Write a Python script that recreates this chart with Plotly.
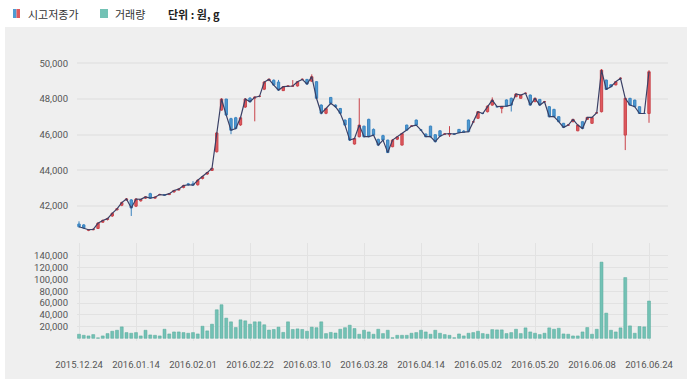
import pandas as pd
import plotly.graph_objects as go

# ---------------- data ----------------
holidays = ["2015-12-25", "2015-12-31", "2016-01-01", "2016-02-08", "2016-02-09",
            "2016-02-10", "2016-03-01", "2016-04-13", "2016-05-05", "2016-05-06",
            "2016-06-06"]
dates = [d.strftime("%Y.%m.%d") for d in
         pd.bdate_range("2015-12-24", "2016-06-24", freq="C", holidays=holidays)]

open_ = [41000, 40950, 40650, 40680, 40750, 41100, 41250, 41450, 41800, 42050,
         42350, 42350, 42000, 42300, 42450, 42700, 42450, 42650, 42650, 42650,
         42800, 42900, 43050, 43250, 43250, 43200, 43550, 43800, 44000, 45050,
         47380, 48000, 46900, 46950, 46550, 47550, 48050, 48050, 48150, 48550,
         49050, 49050, 48950, 48470, 48700, 48720, 48730, 49100, 49100, 49000,
         48970, 47660, 47200, 48090, 47660, 47470, 46820, 46910, 45480, 45890,
         46480, 46860, 46300, 45740, 45950, 45700, 45330, 45750, 45420, 46540,
         46480, 46820, 46260, 46040, 46480, 46000, 46220, 46040, 46000, 46040,
         46300, 46200, 46820, 46720, 46920, 47190, 47290, 47660, 47570, 47480,
         47950, 48040, 48130, 48040, 48320, 48220, 47850, 47980, 47850, 47570,
         47420, 47010, 46640, 46540, 46730, 46220, 46730, 46860, 46640, 47230,
         47290, 49060, 48800, 48790, 49160, 45980, 48040, 47940, 47570, 47190,
         47190]
high = [41150, 41000, 40720, 40750, 41100, 41250, 41350, 41650, 41900, 42250,
        42450, 42400, 42450, 42400, 42550, 42750, 42550, 42700, 42680, 42720,
        42900, 43000, 43200, 43300, 43400, 43500, 43700, 43920, 44150, 46150,
        48050, 48000, 46950, 47000, 47000, 48050, 48100, 48150, 48200, 49000,
        49150, 49100, 49070, 48720, 48760, 49060, 49000, 49150, 49120, 49380,
        49000, 47700, 47500, 48100, 47700, 47500, 46850, 46950, 45820, 48040,
        46500, 46900, 46350, 45780, 46000, 45720, 45750, 45900, 46100, 46560,
        46520, 46850, 46300, 46060, 46500, 46020, 46250, 46080, 46480, 46080,
        46320, 46260, 46850, 46760, 47320, 47230, 47650, 48090, 47620, 47600,
        47980, 48080, 48300, 48240, 48350, 48250, 48060, 48000, 47880, 47600,
        47450, 47030, 46660, 46570, 46880, 46560, 46750, 46990, 46990, 47260,
        49680, 49080, 48820, 48990, 49190, 48060, 48060, 47960, 47590, 47220,
        49620]
low = [40800, 40750, 40600, 40650, 40720, 41080, 41200, 41400, 41750, 42000,
       42300, 41450, 41950, 42250, 42400, 42420, 42420, 42600, 42580, 42620,
       42750, 42880, 43000, 43150, 43150, 43150, 43500, 43750, 43980, 45000,
       47350, 47050, 46030, 46300, 46500, 47500, 47800, 46750, 48100, 48500,
       49000, 48750, 48480, 48450, 48680, 48700, 48700, 49050, 48800, 48950,
       48000, 47150, 47150, 47700, 47500, 47150, 46500, 45650, 45450, 45850,
       45850, 45850, 45950, 45400, 45650, 44990, 45300, 45700, 45400, 46220,
       46450, 46500, 46220, 45880, 45850, 45580, 45900, 46000, 45880, 46000,
       46100, 46110, 46150, 46700, 46900, 47150, 47250, 47620, 47530, 47200,
       47580, 47300, 48100, 48020, 48280, 47640, 47830, 47640, 47820, 46980,
       46980, 46700, 46380, 46500, 46700, 46200, 46330, 46840, 46620, 47200,
       47250, 48520, 48670, 48770, 49130, 45140, 47640, 47550, 47170, 47160,
       46670]
close = [40850, 40780, 40680, 40700, 41050, 41200, 41300, 41600, 41850, 42200,
         42400, 41900, 42400, 42380, 42520, 42450, 42500, 42650, 42620, 42700,
         42880, 42950, 43150, 43200, 43180, 43450, 43650, 43880, 44120, 46100,
         48000, 47100, 46250, 46350, 46950, 48000, 47850, 48100, 48150, 48950,
         49100, 48780, 48500, 48690, 48730, 48730, 48970, 49100, 48840, 49250,
         48040, 47200, 47470, 47760, 47570, 47200, 46540, 45700, 45790, 46540,
         45890, 45890, 45980, 45420, 45700, 45000, 45700, 45880, 46070, 46260,
         46480, 46540, 46260, 45890, 45890, 45610, 45920, 46040, 46070, 46040,
         46110, 46150, 46170, 46720, 47290, 47190, 47600, 47940, 47570, 47570,
         47600, 47660, 48280, 48220, 48320, 47660, 48040, 47660, 47850, 47010,
         47010, 46730, 46410, 46540, 46860, 46540, 46350, 46970, 46970, 47230,
         49620, 48540, 48690, 48970, 49160, 48040, 47660, 47570, 47190, 47190,
         49530]
volume = [6900, 5100, 4000, 6300, 800, 4000, 8000, 12000, 13700, 19400,
          9700, 8600, 9700, 4000, 13700, 5700, 5100, 4000, 15400, 7400,
          10800, 10800, 9700, 8600, 9700, 7400, 20500, 12600, 24000, 48500,
          57100, 34300, 28000, 18300, 31400, 29700, 24000, 28000, 28000, 23000,
          14000, 15000, 19000, 10000, 28000, 15000, 16000, 15000, 12000, 19000,
          18000, 28000, 8000, 10000, 9000, 15400, 18000, 22300, 16600, 6900,
          13700, 10800, 6900, 15400, 8000, 13700, 1000, 5100, 5100, 5100,
          8600, 9700, 13700, 10800, 6900, 13700, 8600, 6300, 5100, 1000,
          7400, 4000, 8600, 9700, 12000, 8000, 6900, 14800, 14300, 14300,
          8000, 9700, 15400, 8000, 17700, 10800, 8600, 6300, 8600, 17700,
          15400, 17100, 7400, 6900, 4000, 4000, 10800, 18300, 6900, 15400,
          129600, 42800, 13700, 10800, 17700, 103300, 21100, 8600, 20000, 19400,
          63400]

tick_dates = dates[::12]
price_ticks = [42000, 44000, 46000, 48000, 50000]
volume_ticks = [20000, 40000, 60000, 80000, 100000, 120000, 140000]

legend_labels = ["시고저종가", "거래량"]
unit_label = "단위 : 원, g"

# ---------------- figure ----------------
W, H = 693, 381
ML, MR, MT, MB = 77, 25, 45, 40
PW, PH = W - ML - MR, H - MT - MB


def px(X):
    return (X - ML) / PW


def py(Y):
    return (H - MB - Y) / PH


RED, RED_L = "#e05a5e", "#c9434a"
BLUE, BLUE_L = "#4f9bd3", "#3a83bf"
TEAL, TEAL_L = "#73c2b5", "#55a99b"
TICKFONT = dict(family="Roboto, Noto Sans, sans-serif", size=9.5, color="#555555")

fig = go.Figure()
fig.add_trace(go.Candlestick(
    x=dates, open=open_, high=high, low=low, close=close,
    increasing=dict(fillcolor=RED, line=dict(color=RED_L, width=1)),
    decreasing=dict(fillcolor=BLUE, line=dict(color=BLUE_L, width=1)),
    whiskerwidth=0, xaxis="x", yaxis="y", showlegend=False,
    name=legend_labels[0]))
fig.add_trace(go.Scatter(
    x=dates, y=close, mode="lines", line=dict(color="#3a4066", width=1.2),
    xaxis="x", yaxis="y", showlegend=False, hoverinfo="skip"))
fig.add_trace(go.Bar(
    x=dates, y=volume, marker=dict(color=TEAL, line=dict(color=TEAL_L, width=0.5)),
    width=0.62, xaxis="x2", yaxis="y2", showlegend=False, name=legend_labels[1]))

xr = [-0.42, 124.0]
fig.update_layout(
    width=W, height=H, autosize=False,
    margin=dict(l=ML, r=MR, t=MT, b=MB, pad=0),
    paper_bgcolor="white", plot_bgcolor="white",
    showlegend=False, bargap=0.3,
    xaxis=dict(type="category", range=xr, domain=[0, 1], anchor="y",
               showticklabels=False, showgrid=False, zeroline=False,
               rangeslider=dict(visible=False), fixedrange=True,
               tickvals=tick_dates),
    yaxis=dict(domain=[py(240), 1], range=[40105, 51025], tickvals=price_ticks,
               tickformat=",d", gridcolor="#e6e6e6", gridwidth=2,
               zeroline=False, showline=False, tickfont=TICKFONT,
               ticks="", ticklabelstandoff=8),
    xaxis2=dict(type="category", range=xr, domain=[0, 1], anchor="y2",
                matches="x", tickvals=tick_dates, ticktext=tick_dates,
                showgrid=True, gridcolor="#e2e2e2", gridwidth=1,
                zeroline=False, tickfont=TICKFONT, ticks="",
                ticklabelstandoff=16, tickangle=0),
    yaxis2=dict(domain=[0, py(243)], range=[-4600, 162100], tickvals=volume_ticks,
                tickformat=",d", gridcolor="#e2e2e2", gridwidth=1,
                zeroline=False, showline=False, tickfont=TICKFONT,
                ticks="", ticklabelstandoff=8),
)

shapes = [
    # grey panel behind both charts
    dict(type="rect", xref="paper", yref="paper", x0=px(5), x1=px(687),
         y0=py(379), y1=py(27), fillcolor="#efefef", line=dict(width=0),
         layer="below"),
    # legend glyphs
    dict(type="rect", xref="paper", yref="paper", x0=px(13), x1=px(16.5),
         y0=py(18), y1=py(9), fillcolor=BLUE, line=dict(width=0)),
    dict(type="rect", xref="paper", yref="paper", x0=px(16.5), x1=px(20),
         y0=py(18), y1=py(9), fillcolor=RED, line=dict(width=0)),
    dict(type="rect", xref="paper", yref="paper", x0=px(100), x1=px(108),
         y0=py(18), y1=py(9), fillcolor=TEAL, line=dict(width=0)),
]
fig.update_layout(shapes=shapes)

LFONT = dict(family="Noto Sans CJK KR, sans-serif", size=11, color="#333333")
fig.add_annotation(xref="paper", yref="paper", x=px(26), y=py(13.5),
                   text=legend_labels[0], showarrow=False, xanchor="left",
                   yanchor="middle", font=LFONT)
fig.add_annotation(xref="paper", yref="paper", x=px(113), y=py(13.5),
                   text=legend_labels[1], showarrow=False, xanchor="left",
                   yanchor="middle", font=LFONT)
fig.add_annotation(xref="paper", yref="paper", x=px(166), y=py(13.5),
                   text="<b>" + unit_label + "</b>", showarrow=False,
                   xanchor="left", yanchor="middle",
                   font=dict(family="Noto Sans CJK KR, sans-serif", size=11,
                             color="#222222"))

fig.write_html("out.html",
               config={"displayModeBar": False, "staticPlot": True},
               post_script="document.body.style.margin='0';"
                           "document.body.style.overflow='hidden';")
